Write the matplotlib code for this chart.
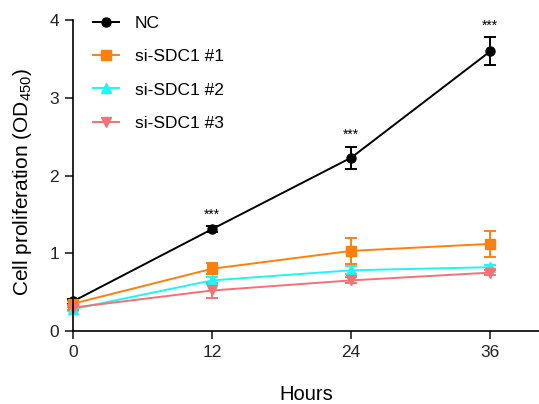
import matplotlib
matplotlib.use("Agg")
import matplotlib.pyplot as plt
from matplotlib.lines import Line2D

plt.rcParams["font.family"] = ["Liberation Sans", "DejaVu Sans"]
plt.rcParams["mathtext.fontset"] = "custom"
plt.rcParams["mathtext.rm"] = "Liberation Sans"

hours = [0, 12, 24, 36]
labels = ["NC", "si-SDC1 #1", "si-SDC1 #2", "si-SDC1 #3"]
nc = [0.38, 1.31, 2.23, 3.60]
nc_err = [0.03, 0.04, 0.14, 0.18]
si1 = [0.35, 0.80, 1.03, 1.12]
si1_err = [0.03, 0.07, 0.17, 0.17]
si2 = [0.28, 0.65, 0.78, 0.82]
si2_err = [0.03, 0.05, 0.05, 0.03]
si3 = [0.30, 0.52, 0.65, 0.75]
si3_err = [0.03, 0.10, 0.04, 0.03]
stars = ["***", "***", "***"]
star_x = [12, 24, 36]

series = [nc, si1, si2, si3]
errs = [nc_err, si1_err, si2_err, si3_err]
colors = ["#000000", "#ff7f0e", "#1ff5f5", "#f47174"]
markers = ["o", "s", "^", "v"]

fig = plt.figure(figsize=(5.39, 4.04), dpi=100)
ax = fig.add_axes([0.1354, 0.181, 0.8646, 0.769])

handles = []
for y, e, c, m, lab in zip(series, errs, colors, markers, labels):
    ax.errorbar(hours, y, yerr=e, color=c, marker=m, ms=6.5, lw=1.4,
                capsize=4, capthick=1.4, elinewidth=1.4, clip_on=False)
    handles.append(Line2D([], [], color=c, marker=m, ms=6.5, lw=1.4, label=lab))

for x, s in zip(star_x, stars):
    i = hours.index(x)
    ax.text(x, nc[i] + nc_err[i] + 0.06, s, ha="center", va="bottom", fontsize=10)

ax.set_xlim(0, 40.2)
ax.set_ylim(0, 4)
ax.set_xticks(hours)
ax.set_yticks([0, 1, 2, 3, 4])
ax.spines["top"].set_visible(False)
ax.spines["right"].set_visible(False)
for sp in ["left", "bottom"]:
    ax.spines[sp].set_linewidth(1.2)
ax.tick_params(width=1.2, length=6, labelsize=12.5, colors="#222222", pad=4)
ax.set_xlabel("Hours", fontsize=14.5, labelpad=18)
ax.set_ylabel("Cell proliferation (OD$_{450}$)", fontsize=15, labelpad=10)
ax.yaxis.set_label_coords(-0.083, 0.48)

ax.legend(handles=handles, loc="upper left", bbox_to_anchor=(0.01, 1.065), frameon=False,
          fontsize=12.5, handlelength=1.5, handletextpad=0.9, labelspacing=1.05)

fig.savefig("out.png", dpi=100)
